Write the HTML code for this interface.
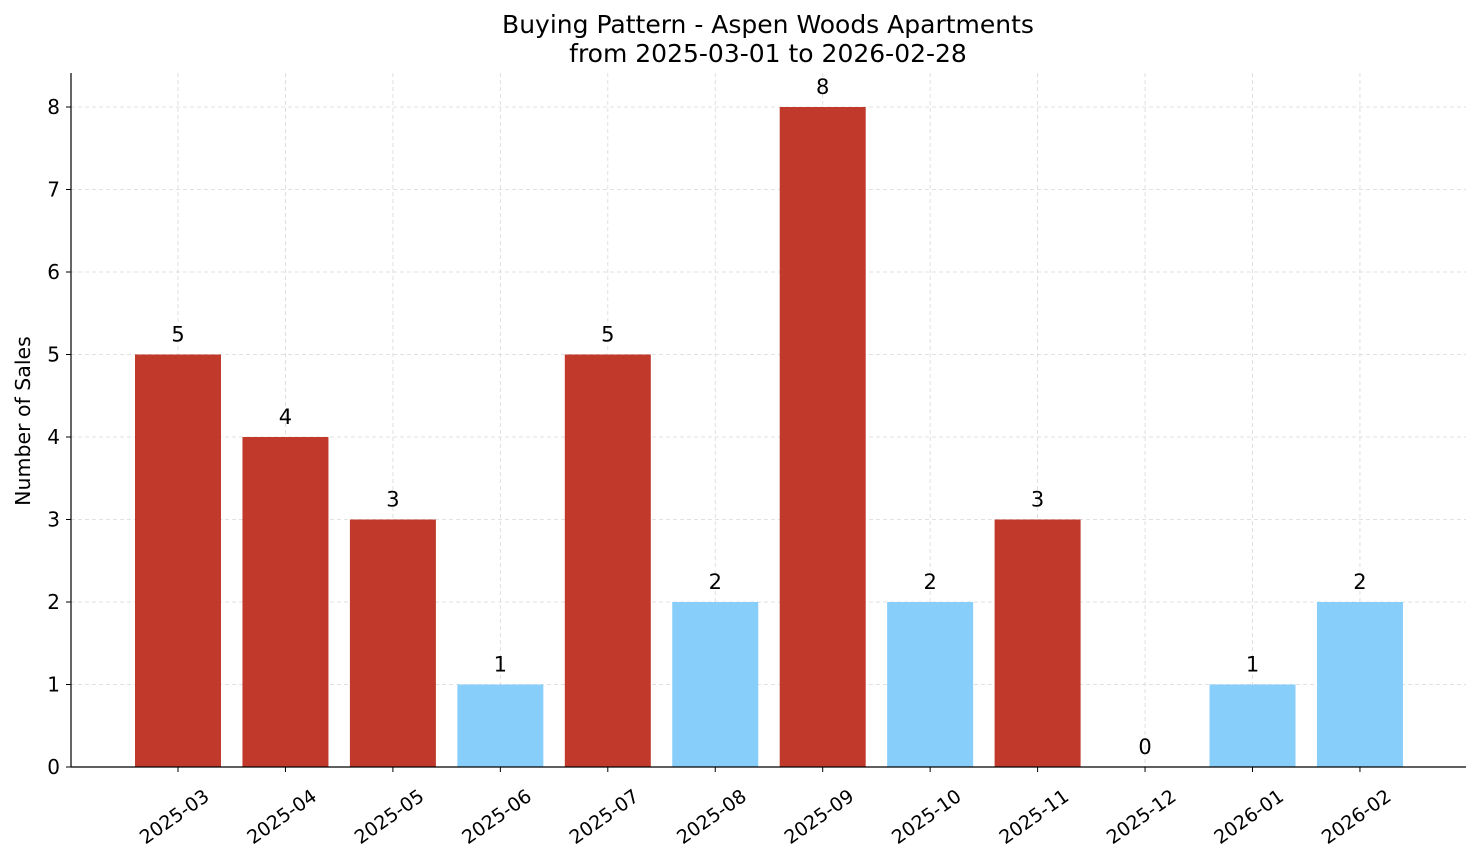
<!DOCTYPE html>
<html><head><meta charset="utf-8"><style>
body{margin:0;background:#fff;}
text{font-family:"DejaVu Sans","Liberation Sans",sans-serif;fill:#000;}
</style></head><body>
<svg id="chart" width="1481" height="863" xmlns="http://www.w3.org/2000/svg">
<text x="768" y="33" text-anchor="middle" style="font-size:25px">Buying Pattern - Aspen Woods Apartments</text>
<text x="768" y="62" text-anchor="middle" style="font-size:25px">from 2025-03-01 to 2026-02-28</text>
<text transform="translate(30,421) rotate(-90)" text-anchor="middle" style="font-size:20.5px">Number of Sales</text>
<g id="grid"></g><g id="bars"></g><g id="axes"></g>
</svg>
<script>
const categories = ["2025-03","2025-04","2025-05","2025-06","2025-07","2025-08","2025-09","2025-10","2025-11","2025-12","2026-01","2026-02"];
const sales = [5,4,3,1,5,2,8,2,3,0,1,2];
const yTicks = [0,1,2,3,4,5,6,7,8];
const NS="http://www.w3.org/2000/svg";
const left=71,right=1466,y0=767,unit=82.5,x0c=178,step=107.45,bw=86;
const xS=i=>x0c+step*i, yS=v=>y0-v*unit;
const avg=sales.reduce((a,b)=>a+b,0)/sales.length;
function mk(tag,attrs,parent){const e=document.createElementNS(NS,tag);for(const k in attrs)e.setAttribute(k,attrs[k]);parent.appendChild(e);return e;}
const grid=document.getElementById('grid'),bars=document.getElementById('bars'),axes=document.getElementById('axes');
yTicks.forEach(t=>{
  const g=mk('line',{x1:left,x2:right,y1:yS(t),y2:yS(t),stroke:'#d8d8d8','stroke-dasharray':'4,3','stroke-width':0.8},grid);
  
  
  mk('line',{x1:left-5,x2:left,y1:yS(t),y2:yS(t),stroke:'#000'},axes);
  const tx=mk('text',{x:left-11,y:yS(t)+7,'text-anchor':'end',style:'font-size:20px'},axes);tx.textContent=t;
  
  
});
categories.forEach((c,i)=>{
  const x=xS(i),v=sales[i];
  const gl=mk('line',{x1:x,x2:x,y1:73,y2:y0,stroke:'#d8d8d8','stroke-dasharray':'4,3','stroke-width':0.8},grid);
  
  
  const r=mk('rect',{x:x-bw/2,y:yS(v),width:bw,height:v*unit,fill:v>=avg?'#c0392b':'#87cefa'},bars);
  
  
  const lb=mk('text',{x:x,y:yS(v)-13,'text-anchor':'middle',style:'font-size:21px'},bars);lb.textContent=v;
  
  
  mk('line',{x1:x,x2:x,y1:y0,y2:y0+5,stroke:'#000'},axes);
  const t=mk('text',{x:0,y:0,'text-anchor':'middle',style:'font-size:19px',transform:`translate(${x},${y0+55}) rotate(-35)`},axes);t.textContent=c;
  
  
});
const ya=mk('line',{x1:left,x2:left,y1:73,y2:y0,stroke:'#000','stroke-width':1.2},axes);


const xa=mk('line',{x1:left,x2:right,y1:y0,y2:y0,stroke:'#000','stroke-width':1.2},axes);


</script>
</body></html>
